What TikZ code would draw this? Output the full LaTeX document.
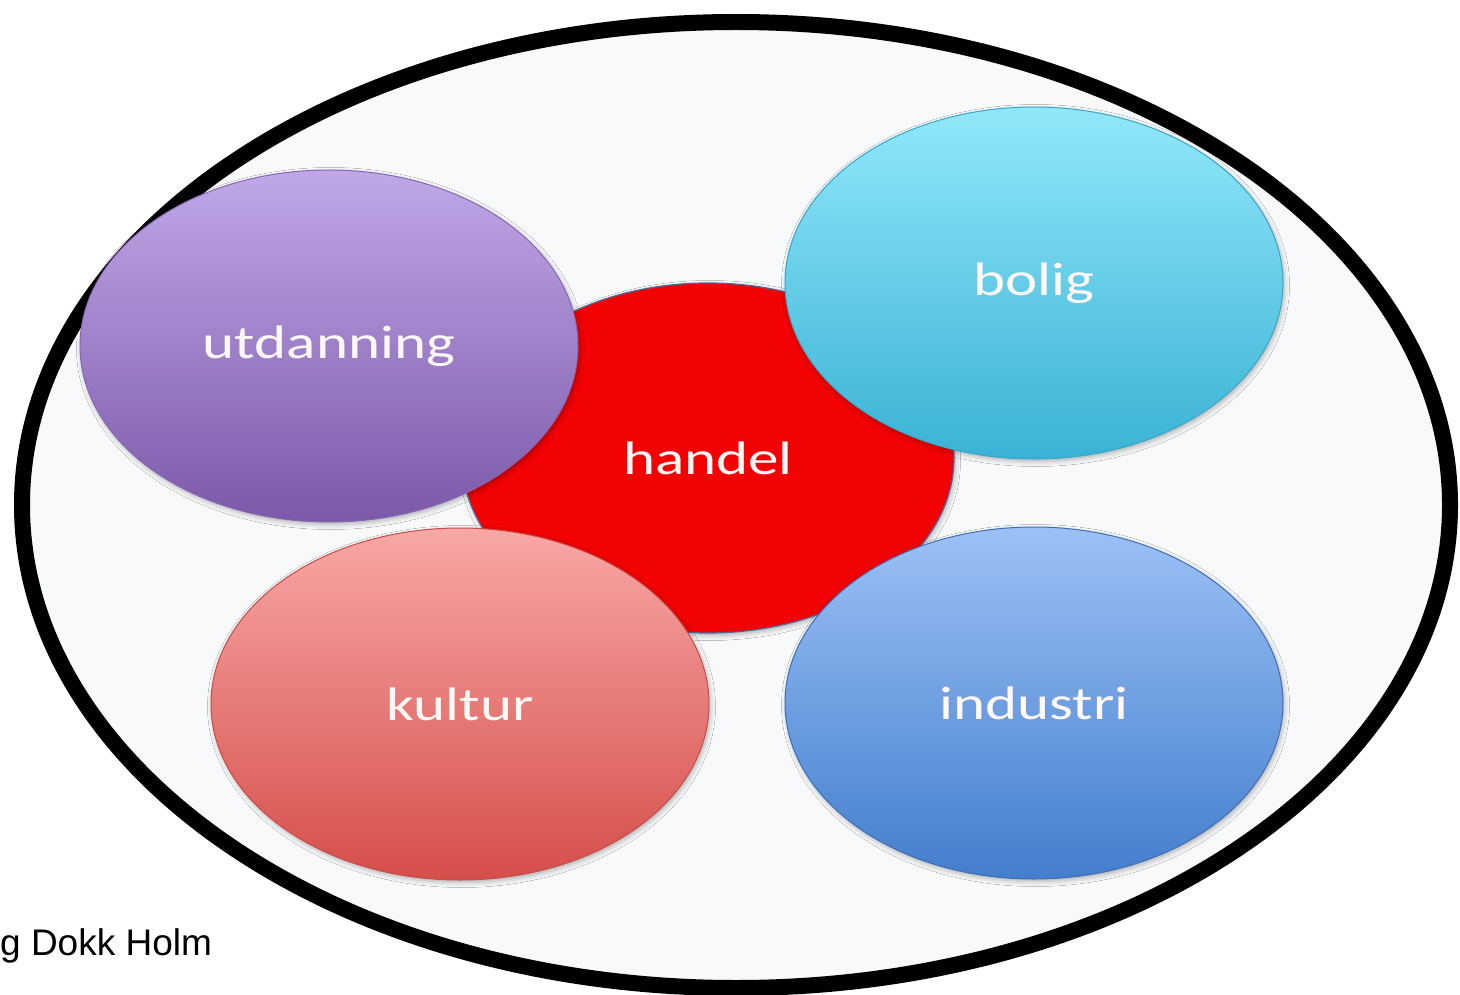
\documentclass[tikz,border=0pt]{standalone}
\usepackage{fontspec}
\usetikzlibrary{shapes.geometric,shadows.blur}
\newfontfamily\lblfont[FakeStretch=1.3]{Carlito}
\newfontfamily\capfont{Liberation Sans}
\definecolor{bgin}{HTML}{F8F9FB}
\definecolor{utT}{HTML}{C0A8E8}\definecolor{utB}{HTML}{7C59A9}\definecolor{utD}{HTML}{8468B4}
\definecolor{boT}{HTML}{92E8FA}\definecolor{boB}{HTML}{3AB2D5}\definecolor{boD}{HTML}{3AA6C8}
\definecolor{kuT}{HTML}{F8A8A6}\definecolor{kuB}{HTML}{D54E4A}\definecolor{kuD}{HTML}{C64D4A}
\definecolor{inT}{HTML}{9CC1F7}\definecolor{inB}{HTML}{437ECC}\definecolor{inD}{HTML}{3F6EB5}
\definecolor{haF}{HTML}{F20202}\definecolor{haD}{HTML}{4A6A9C}
\definecolor{txt}{HTML}{FFF8F6}
\tikzset{
  bubble/.style={ellipse, inner sep=0pt, minimum width=498pt, minimum height=352pt,
    line width=1pt, text=txt, font=\lblfont\fontsize{47}{50}\selectfont,
    blur shadow={shadow xshift=1.5pt, shadow yshift=-2.5pt, shadow blur radius=5pt, shadow opacity=30}},
  frame/.style={ellipse, inner sep=0pt, minimum width=1428pt, minimum height=966pt,
    draw=black, line width=16pt, fill=bgin,
    blur shadow={shadow xshift=1pt, shadow yshift=-2pt, shadow blur radius=5pt, shadow opacity=40}},
  caption/.style={inner sep=0pt, font=\capfont\fontsize{37}{40}\selectfont, text=black}
}
\begin{document}
\begin{tikzpicture}[x=1pt,y=-1pt]
\useasboundingbox (0,0) rectangle (1460,995);
\fill[white] (0,0) rectangle (1460,995);
\node[frame] (outer) at (736,505) {};
\node[bubble, minimum width=492pt, minimum height=350pt, fill=haF, draw=haD, line width=1.2pt] (handel) at (708,458) {handel};
\node[bubble, top color=utT, bottom color=utB, draw=utD] (utdanning) at (329,346) {\raisebox{-4pt}{utdanning}};
\node[bubble, top color=boT, bottom color=boB, draw=boD] (bolig) at (1034,283) {\raisebox{-3pt}{bolig}};
\node[bubble, top color=kuT, bottom color=kuB, draw=kuD] (kultur) at (460,704) {kultur};
\node[bubble, top color=inT, bottom color=inB, draw=inD] (industri) at (1034,703) {industri};
\node[caption, anchor=base west] (credit) at (0,955) {g Dokk Holm};
\end{tikzpicture}
\end{document}
